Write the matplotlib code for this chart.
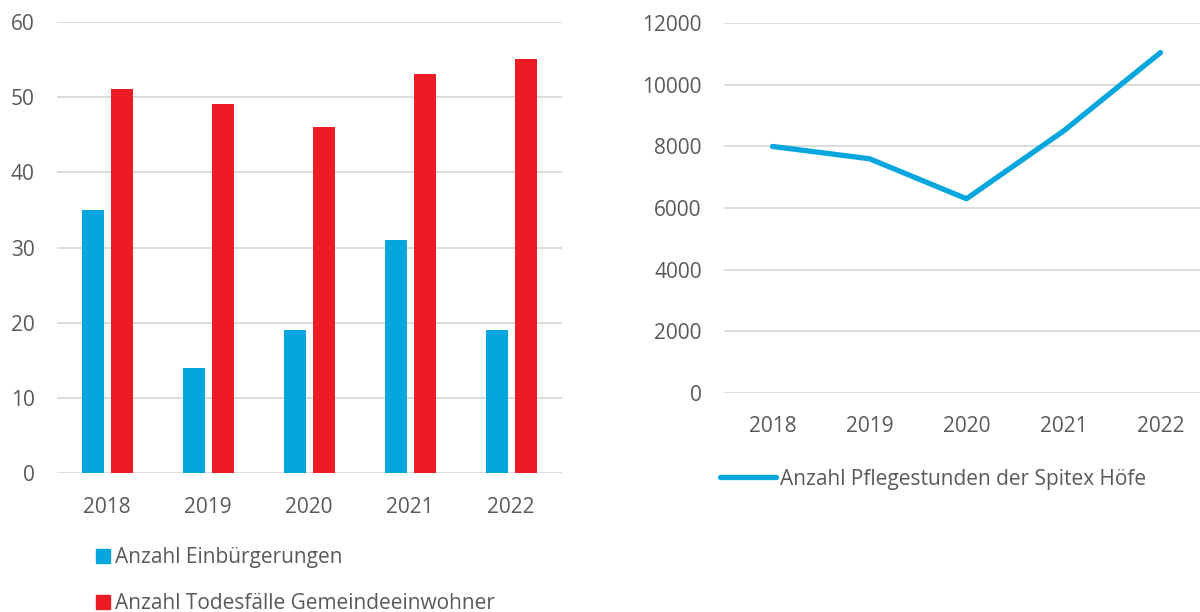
import numpy as np
import matplotlib
matplotlib.use("Agg")
import matplotlib.pyplot as plt
from matplotlib.patches import Patch
from matplotlib.lines import Line2D

# Data
years = ["2018", "2019", "2020", "2021", "2022"]
einbuergerungen = [35, 14, 19, 31, 19]
todesfaelle = [51, 49, 46, 53, 55]
pflegestunden = [8000, 7600, 6300, 8500, 11050]

BLUE = "#05A6DD"
RED = "#ED1C24"
TEXT = "#595959"
GRID = "#D9D9D9"
FS = 15

plt.rcParams["font.family"] = ["Open Sans", "DejaVu Sans"]

W, H = 1200, 612
fig = plt.figure(figsize=(W / 100, H / 100), dpi=100)


def px_axes(x0, y_top, x1, y_bot):
    return fig.add_axes([x0 / W, 1 - y_bot / H, (x1 - x0) / W, (y_bot - y_top) / H])


def style(ax, yticks, xpad):
    for s in ax.spines.values():
        s.set_visible(False)
    ax.set_yticks(yticks)
    ax.yaxis.grid(True, color=GRID, linewidth=1.3)
    ax.set_axisbelow(True)
    ax.tick_params(axis="both", length=0, labelsize=FS, colors=TEXT)
    ax.tick_params(axis="y", pad=16)
    ax.tick_params(axis="x", pad=xpad)


# Left: grouped bars
ax1 = px_axes(56.7, 21.7, 561.7, 473.3)
x = np.arange(len(years))
bw = 0.22
ax1.bar(x - 0.143, einbuergerungen, bw, color=BLUE)
ax1.bar(x + 0.143, todesfaelle, bw, color=RED)
ax1.set_xlim(-0.5, len(years) - 0.5)
ax1.set_ylim(0, 60)
ax1.set_xticks(x)
ax1.set_xticklabels(years)
style(ax1, np.arange(0, 61, 10), 17)

fig.legend(
    handles=[Patch(color=BLUE), Patch(color=RED)],
    labels=["Anzahl Einbürgerungen", "Anzahl Todesfälle Gemeindeeinwohner"],
    loc="upper left", bbox_to_anchor=(96 / W, 1 - 547 / H),
    frameon=False, fontsize=FS, labelcolor=TEXT,
    handlelength=0.68, handleheight=0.68, handletextpad=0.25,
    labelspacing=1.2, borderpad=0, borderaxespad=0,
)

# Right: line
ax2 = px_axes(724, 23.3, 1200, 392.7)
ax2.plot(x, pflegestunden, color=BLUE, linewidth=3.8, solid_capstyle="round",
         solid_joinstyle="round")
ax2.set_xlim(-0.5, -0.5 + 476 / 97)
ax2.set_ylim(0, 12000)
ax2.set_xticks(x)
ax2.set_xticklabels(years)
style(ax2, np.arange(0, 12001, 2000), 17)

fig.legend(
    handles=[Line2D([0], [0], color=BLUE, linewidth=3.8, solid_capstyle="round")],
    labels=["Anzahl Pflegestunden der Spitex Höfe"],
    loc="center left", bbox_to_anchor=(720 / W, 1 - 479 / H),
    frameon=False, fontsize=FS, labelcolor=TEXT,
    handlelength=2.7, handletextpad=0.2, borderpad=0, borderaxespad=0,
)

fig.savefig("out.png", dpi=100, facecolor="white")
